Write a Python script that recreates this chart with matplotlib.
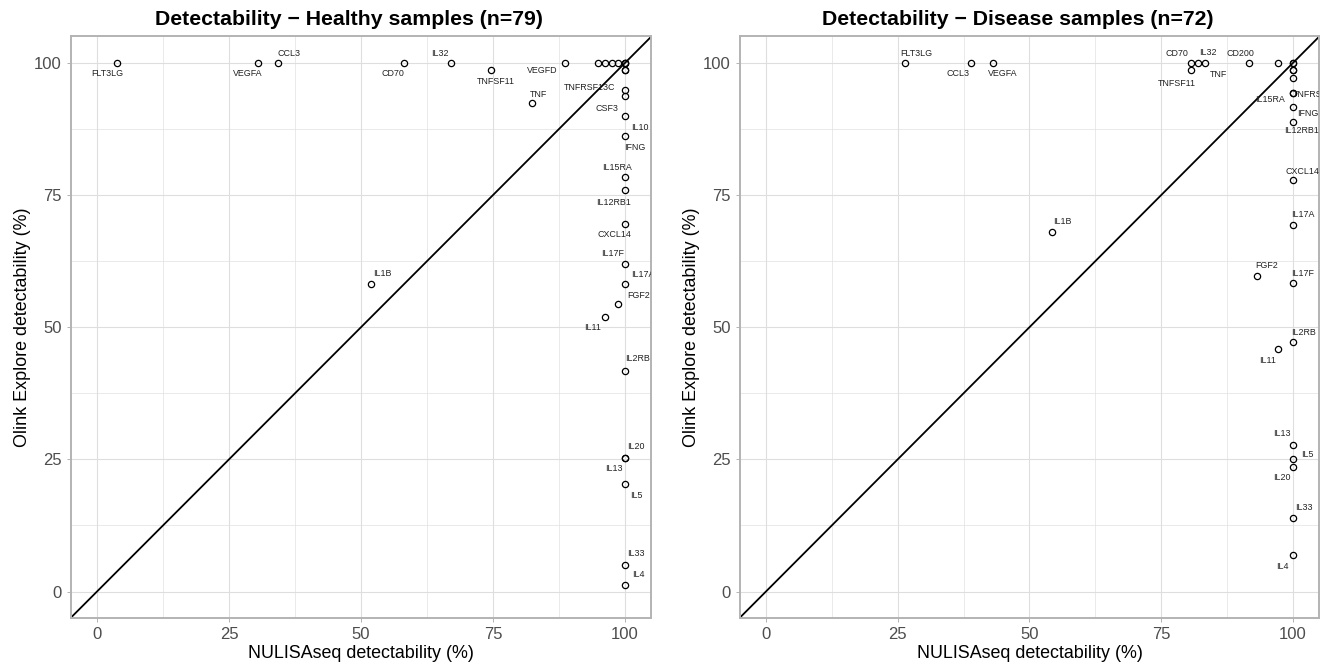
import numpy as np
import matplotlib.pyplot as plt

plt.rcParams.update({'font.family': ['Liberation Sans', 'DejaVu Sans']})

# Healthy samples (n=79): labelled targets
healthy_labels = ['FLT3LG', 'VEGFA', 'CCL3', 'CD70', 'IL32', 'TNFSF11', 'VEGFD', 'TNF',
                  'TNFRSF13C', 'CSF3', 'IL10', 'IFNG', 'IL15RA', 'IL12RB1', 'CXCL14',
                  'IL17F', 'IL17A', 'FGF2', 'IL11', 'IL1B', 'IL2RB', 'IL20', 'IL13',
                  'IL5', 'IL33', 'IL4']
healthy_nulisa = [3.8, 30.4, 34.2, 58.2, 67.1, 74.7, 88.6, 82.3,
                  100, 100, 100, 100, 100, 100, 100,
                  100, 100, 98.7, 96.2, 51.9, 100, 100, 100,
                  100, 100, 100]
healthy_olink = [100, 100, 100, 100, 100, 98.7, 100, 92.4,
                 94.9, 93.7, 89.9, 86.1, 78.5, 75.9, 69.6,
                 62.0, 58.2, 54.4, 51.9, 58.2, 41.8, 25.3, 25.3,
                 20.3, 5.1, 1.3]
# unlabelled targets (overlapping near 100/100)
healthy_other_nulisa = [94.9, 96.2, 97.5, 98.7, 100, 100, 100, 100, 100]
healthy_other_olink = [100, 100, 100, 100, 100, 100, 100, 98.7, 98.7]

# Disease samples (n=72)
disease_labels = ['FLT3LG', 'CCL3', 'VEGFA', 'CD70', 'IL32', 'TNF', 'TNFSF11', 'CD200',
                  'IL15RA', 'TNFRSF13C', 'IFNG', 'IL12RB1', 'CXCL14', 'IL17A', 'FGF2',
                  'IL17F', 'IL2RB', 'IL11', 'IL1B', 'IL13', 'IL5', 'IL20', 'IL33', 'IL4']
disease_nulisa = [26.4, 38.9, 43.1, 80.6, 83.3, 81.9, 80.6, 91.7,
                  100, 100, 100, 100, 100, 100, 93.1,
                  100, 100, 97.2, 54.2, 100, 100, 100, 100, 100]
disease_olink = [100, 100, 100, 100, 100, 100, 98.6, 100,
                 94.4, 94.4, 91.7, 88.9, 77.8, 69.4, 59.7,
                 58.3, 47.2, 45.8, 68.1, 27.8, 25.0, 23.6, 13.9, 6.9]
disease_other_nulisa = [97.2, 100, 100, 100, 100, 100]
disease_other_olink = [100, 100, 100, 98.6, 98.6, 97.2]

# label offsets in pixels (dx right, dy down), as placed by the repel layout
healthy_offsets = [(-10, 11), (-10, 11), (11, -9), (-11, 11), (-11, -9), (4, 12), (-23, 8), (7, -9),
                   (-35, -2), (-18, 12), (15, 11), (10, 11), (-8, -9), (-12, 12), (-11, 11),
                   (-12, -10), (18, -9), (20, -8), (-12, 10), (11, -10), (12, -12), (11, -11), (-11, 11),
                   (11, 11), (11, -11), (13, -10)]
disease_offsets = [(11, -9), (-13, 11), (10, 11), (-14, -9), (3, -10), (21, 12), (-14, 13), (-9, -9),
                   (-23, 7), (26, 2), (15, 7), (9, 9), (9, -9), (10, -10), (10, -10),
                   (10, -10), (11, -10), (-11, 11), (11, -10), (-11, -11), (14, -5), (-11, 11), (11, -11), (-11, 11)]

ticks = [0, 25, 50, 75, 100]
minor = [12.5, 37.5, 62.5, 87.5]


def detect_panel(ax, title, x, y, ox, oy, labels, offsets):
    ax.set_xlim(-5, 105)
    ax.set_ylim(-5, 105)
    ax.set_xticks(ticks)
    ax.set_yticks(ticks)
    ax.set_xticks(minor, minor=True)
    ax.set_yticks(minor, minor=True)
    ax.grid(which='major', color='#dedede', linewidth=0.8)
    ax.grid(which='minor', color='#dedede', linewidth=0.45)
    ax.set_axisbelow(True)
    ax.tick_params(which='major', length=3, width=0.7, color='#b3b3b3',
                   labelsize=12, labelcolor='#4d4d4d')
    ax.tick_params(which='minor', length=0)
    for s in ax.spines.values():
        s.set_color('#b3b3b3')
        s.set_linewidth(1.4)

    ax.axline((0, 0), slope=1, color='black', linewidth=1.3, zorder=2)
    ax.plot(ox, oy, 'o', mfc='none', mec='black', ms=4.5, mew=0.9, zorder=3)
    ax.plot(x, y, 'o', mfc='none', mec='black', ms=4.5, mew=0.9, zorder=3)
    for lab, xi, yi, (dx, dy) in zip(labels, x, y, offsets):
        ax.annotate(lab, (xi, yi), xytext=(dx * 0.72, -dy * 0.72), textcoords='offset points',
                    ha='center', va='center', fontsize=6.4, color='#222222',
                    annotation_clip=False, clip_on=True)

    ax.set_title(title, fontsize=15.3, fontweight='bold', pad=8, x=0.48)
    ax.set_xlabel('NULISAseq detectability (%)', fontsize=12.9, labelpad=2)
    ax.set_ylabel('Olink Explore detectability (%)', fontsize=12.9, labelpad=2)


fig = plt.figure(figsize=(13.42, 6.68), dpi=100)
ax1 = fig.add_axes([0.0526, 0.0749, 0.4328, 0.8705])
ax2 = fig.add_axes([0.5511, 0.0749, 0.4320, 0.8705])

detect_panel(ax1, 'Detectability \u2212 Healthy samples (n=79)', healthy_nulisa, healthy_olink,
             healthy_other_nulisa, healthy_other_olink, healthy_labels, healthy_offsets)
detect_panel(ax2, 'Detectability \u2212 Disease samples (n=72)', disease_nulisa, disease_olink,
             disease_other_nulisa, disease_other_olink, disease_labels, disease_offsets)

fig.savefig('out.png', dpi=100)
